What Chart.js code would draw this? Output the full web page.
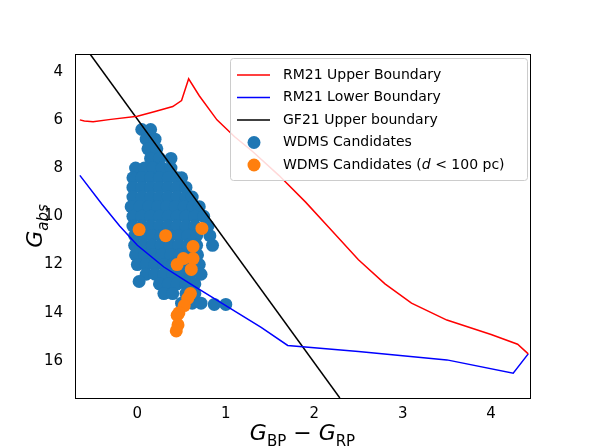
<!DOCTYPE html>
<html><head><meta charset="utf-8">
<script src="https://cdn.jsdelivr.net/npm/chart.js@4"></script>
<style>html,body{margin:0;padding:0;background:#fff}</style>
</head><body>
<div style="width:598px;height:448px"><canvas id="c" width="598" height="448"></canvas></div>
<script>
const redX=[-0.65,-0.6,-0.5,-0.3,0,0.2,0.4,0.5,0.58,0.7,0.9,1.1,1.3,1.6,1.9,2.2,2.5,2.8,3.1,3.5,4.0,4.3,4.42];
const redY=[6.0,6.05,6.08,5.98,5.85,5.65,5.45,5.2,4.3,5.0,6.0,6.7,7.3,8.3,9.4,10.6,11.8,12.8,13.6,14.3,14.9,15.3,15.7];
const blueLX=[-0.65,-0.4,-0.2,0,0.3,0.6,1.0,1.4,1.7,2.5,3.5,4.25,4.42];
const blueLY=[8.3,9.5,10.4,11.2,12.1,12.8,13.7,14.6,15.35,15.6,15.95,16.5,15.7];
const blackX=[-0.535,2.29];
const blackY=[3.27,17.53];
const blueRowY=[6.4,6.8,7.2,7.6,8.0,8.4,8.8,9.2,9.6,10.0,10.4,10.8,11.2,11.6,12.0,12.4,12.8,13.2,13.6];
const blueRowX=[
[0.05,0.15],[0.1,0.2],[0.12,0.22],[0.15,0.25,0.38],
[-0.02,0.08,0.18,0.28,0.38],[-0.05,0.05,0.15,0.25,0.35,0.45,0.5],
[-0.05,0.05,0.15,0.25,0.35,0.45,0.55],[-0.05,0.05,0.15,0.25,0.35,0.45,0.55,0.62],
[-0.07,0.03,0.13,0.23,0.33,0.43,0.53,0.63,0.7],[-0.05,0.05,0.15,0.25,0.35,0.45,0.55,0.65,0.75],
[-0.05,0.05,0.15,0.25,0.35,0.45,0.55,0.65,0.8],[-0.03,0.07,0.17,0.27,0.37,0.47,0.57,0.67,0.82],
[-0.03,0.07,0.17,0.27,0.37,0.47,0.57,0.67,0.85],[-0.02,0.08,0.18,0.28,0.38,0.48,0.58,0.68],
[0.0,0.1,0.2,0.3,0.4,0.5,0.6,0.7],[0.1,0.2,0.3,0.4,0.5,0.6,0.72],
[0.25,0.35,0.45,0.55,0.65],[0.3,0.4,0.55,0.65],[0.5,0.62,0.72]];
const blueExtraX=[0.02,1.0,0.87];
const blueExtraY=[12.7,13.65,13.65];
const orX=[0.02,0.32,0.73,0.63,0.52,0.63,0.45,0.61,0.6,0.57,0.53,0.47,0.45,0.46,0.44];
const orY=[10.55,10.8,10.5,11.25,11.75,11.75,12.0,12.2,13.2,13.4,13.7,14.0,14.1,14.5,14.75];
const xTicks=[0,1,2,3,4];
const yTicks=[4,6,8,10,12,14,16];

const zip=(a,b)=>a.map((v,i)=>({x:v,y:b[i]}));
const bluePts=[];
blueRowY.forEach((y,i)=>blueRowX[i].forEach(x=>bluePts.push({x,y})));
blueExtraX.forEach((x,i)=>bluePts.push({x,y:blueExtraY[i]}));
const line=(l,c,xs,ys)=>({type:'line',label:l,data:zip(xs,ys),borderColor:c,backgroundColor:c,borderWidth:1.5,pointRadius:0,fill:false,tension:0,order:0});
const titles={id:'titles',afterDraw(ch){const c=ch.ctx;const a=ch.chartArea;c.save();
 c.strokeStyle='#000';c.lineWidth=1;c.strokeRect(a.left+0.5,a.top+0.5,a.right-a.left,a.bottom-a.top);
 // legend
 c.fillStyle='rgba(255,255,255,0.85)';c.strokeStyle='#ccc';
 c.beginPath();c.roundRect(230.5,58.5,297,122,3);c.fill();c.stroke();
 c.font='14px "DejaVu Sans"';c.textBaseline='middle';c.textAlign='left';
 ch.data.datasets.forEach((d,i)=>{const y=75+i*22.5;
  if(i<3){c.strokeStyle=d.borderColor;c.lineWidth=1.5;c.beginPath();c.moveTo(237,y);c.lineTo(270,y);c.stroke();}
  else{c.fillStyle=d.backgroundColor;c.beginPath();c.arc(254,y,6.5,0,Math.PI*2);c.fill();}
  c.fillStyle='#000';
  if(i===4){let x=283;const seg=[['WDMS Candidates (',0],['d',1],[' < 100 pc)',0]];seg.forEach(([t,it])=>{c.font=(it?'italic ':'')+'14px "DejaVu Sans"';c.fillText(t,x,y);x+=c.measureText(t).width;});c.font='14px "DejaVu Sans"';}
  else c.fillText(d.label,283,y);});
 c.fillStyle='#000';
 const drawSub=(parts,x,y)=>{let cx=x;parts.forEach(([t,sub,it])=>{c.font=(it?'italic ':'')+(sub?'15px':'22px')+' "DejaVu Sans"';c.fillText(t,cx,y+(sub?6:0));cx+=c.measureText(t).width;});};
 const meas=parts=>{let w=0;parts.forEach(([t,sub,it])=>{c.font=(it?'italic ':'')+(sub?'15px':'22px')+' "DejaVu Sans"';w+=c.measureText(t).width;});return w;};
 const xp=[['G',0,1],['BP',1,0],[' − ',0,0],['G',0,1],['RP',1,0]];
 c.textBaseline='alphabetic';
 drawSub(xp,a.left+(a.right-a.left)/2-meas(xp)/2,440);
 c.translate(42,a.top+(a.bottom-a.top)/2);c.rotate(-Math.PI/2);
 const yp=[['G',0,1],['abs',1,1]];
 drawSub(yp,-meas(yp)/2,0);c.restore();}};
new Chart(document.getElementById('c'),{
 type:'scatter',
 data:{datasets:[
  line('RM21 Upper Boundary','#ff0000',redX,redY),
  line('RM21 Lower Boundary','#0000ff',blueLX,blueLY),
  line('GF21 Upper boundary','#000000',blackX,blackY),
  {label:'WDMS Candidates',data:bluePts,backgroundColor:'#1f77b4',borderColor:'#1f77b4',pointRadius:6.5,borderWidth:0,order:2},
  {label:'WDMS Candidates (d < 100 pc)',data:zip(orX,orY),backgroundColor:'#ff7f0e',borderColor:'#ff7f0e',pointRadius:6.5,borderWidth:0,order:1}
 ]},
 options:{responsive:false,animation:false,
  layout:{padding:{top:54,right:68,left:0,bottom:0}},
  plugins:{tooltip:{enabled:false},legend:{display:false}},
  scales:{
   x:{type:'linear',min:-0.705,max:4.44,grid:{display:false,drawTicks:true,tickLength:5},border:{color:'#000'},
    afterBuildTicks(a){a.ticks=xTicks.map(v=>({value:v}));},
    afterFit(a){a.height=50;},
    ticks:{color:'#000',font:{family:'DejaVu Sans',size:15},padding:2}},
   y:{type:'linear',reverse:true,min:3.27,max:17.53,grid:{display:false},border:{color:'#000'},
    afterBuildTicks(a){a.ticks=yTicks.map(v=>({value:v}));},
    afterFit(a){a.width=75;},
    ticks:{color:'#000',font:{family:'DejaVu Sans',size:15},padding:4}}
  }},
 plugins:[titles]
});
</script></body></html>
